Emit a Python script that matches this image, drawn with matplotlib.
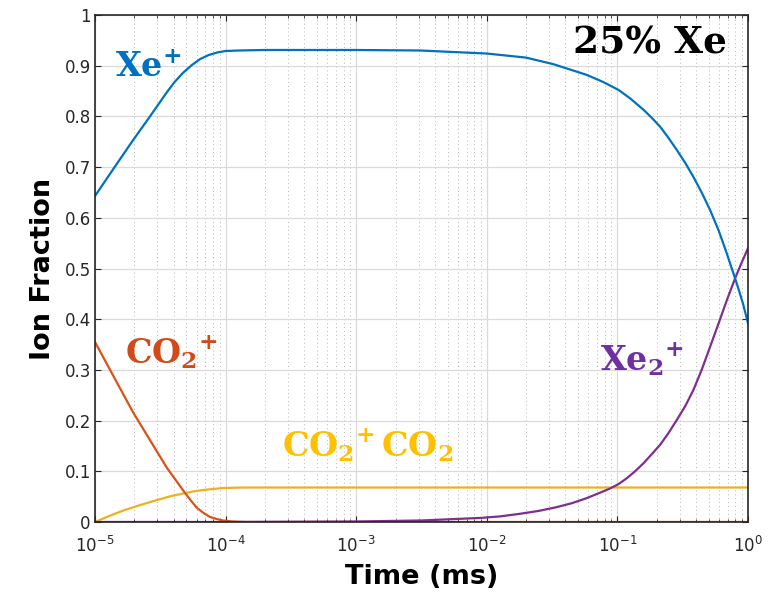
import numpy as np
import matplotlib as mpl
import matplotlib.pyplot as plt
from matplotlib.ticker import LogLocator, NullFormatter

mpl.rcParams.update({"mathtext.fontset": "custom",
                     "mathtext.bf": "DejaVu Serif:bold",
                     "mathtext.rm": "DejaVu Serif:bold",
                     "font.family": "DejaVu Sans"})

logt_xe = [-5, -4.85, -4.709, -4.579, -4.449, -4.39, -4.326, -4.26, -4.196, -4.13,
           -4.066, -4.0, -3.9, -3.7, -3.0, -2.51, -2.0, -1.7, -1.49, -1.236, -1.11,
           -0.99, -0.9, -0.8, -0.74, -0.674, -0.61, -0.546, -0.48, -0.419, -0.355,
           -0.29, -0.225, -0.163, -0.087, -0.04, 0]
xe_plus = [0.643, 0.700, 0.753, 0.800, 0.848, 0.868, 0.886, 0.901, 0.913, 0.921,
           0.926, 0.929, 0.930, 0.931, 0.931, 0.930, 0.924, 0.916, 0.903, 0.882, 0.868,
           0.852, 0.835, 0.813, 0.798, 0.780, 0.758, 0.734, 0.708, 0.681, 0.650,
           0.615, 0.575, 0.530, 0.471, 0.432, 0.392]

logt_xe2 = [-5, -4, -3.5, -3, -2.5, -2.05, -1.9, -1.75, -1.6, -1.47, -1.35, -1.236,
            -1.15, -1.057, -0.99, -0.93, -0.865, -0.8, -0.74, -0.674, -0.61, -0.546,
            -0.48, -0.419, -0.355, -0.29, -0.225, -0.163, -0.1, -0.05, 0]
xe2_plus = [0, 0, 0.0005, 0.001, 0.003, 0.008, 0.011, 0.016, 0.022, 0.029, 0.037,
            0.047, 0.056, 0.066, 0.075, 0.086, 0.100, 0.116, 0.133, 0.152, 0.175,
            0.201, 0.229, 0.260, 0.300, 0.346, 0.392, 0.437, 0.480, 0.511, 0.540]

logt_co2 = [-5, -4.71, -4.58, -4.45, -4.31, -4.265, -4.22, -4.17, -4.12, -4.07, -4.02,
            -3.95, -3.85, 0]
co2_plus = [0.355, 0.217, 0.162, 0.107, 0.057, 0.042, 0.028, 0.018, 0.010, 0.006,
            0.003, 0.001, 0.0, 0.0]

logt_dim = [-5, -4.9, -4.79, -4.66, -4.53, -4.42, -4.31, -4.27, -4.23, -4.185, -4.14,
            -4.08, -4.02, -3.9, -3.8, 0]
co2_dimer = [0.0, 0.011, 0.022, 0.033, 0.043, 0.051, 0.057, 0.059, 0.061, 0.0625,
             0.064, 0.0655, 0.067, 0.0678, 0.068, 0.068]

BLUE, ORANGE, YELLOW, PURPLE = "#0072BD", "#D95319", "#EDB120", "#7E2F8E"

fig = plt.figure(figsize=(7.73, 5.98), dpi=100)
ax = fig.add_axes([0.1229, 0.1271, 0.8448, 0.8478])

ax.plot(10.0 ** np.array(logt_dim), co2_dimer, color=YELLOW, lw=1.6)
ax.plot(10.0 ** np.array(logt_co2), co2_plus, color=ORANGE, lw=1.6)
ax.plot(10.0 ** np.array(logt_xe2), xe2_plus, color=PURPLE, lw=1.6)
ax.plot(10.0 ** np.array(logt_xe), xe_plus, color=BLUE, lw=1.6)

ax.set_xscale("log")
ax.set_xlim(1e-5, 1)
ax.set_ylim(0, 1)
ax.xaxis.set_major_locator(LogLocator(base=10, numticks=10))
ax.xaxis.set_minor_locator(LogLocator(base=10, subs=np.arange(2, 10), numticks=20))
ax.xaxis.set_minor_formatter(NullFormatter())
ax.set_yticks(np.arange(0, 1.01, 0.1))
ax.set_yticklabels(["0"] + [f"{v:.1f}" for v in np.arange(0.1, 0.95, 0.1)] + ["1"])

ax.grid(True, which="major", color="#dadada", lw=0.9)
ax.grid(True, which="minor", axis="x", color="#b5b5b5", lw=0.7, ls=(0, (1, 3)))
ax.tick_params(which="both", direction="in", top=True, right=True, colors="#262626",
               labelsize=12)
ax.tick_params(axis="x", which="major", pad=10)
ax.tick_params(axis="y", which="major", pad=3)
ax.tick_params(which="minor", length=2.5)
ax.tick_params(which="major", length=4)
for s in ax.spines.values():
    s.set_color("#262626")
    s.set_linewidth(1.2)

ax.set_xlabel("Time (ms)", fontsize=19.5, fontweight="bold", labelpad=6)
ax.set_ylabel("Ion Fraction", fontsize=19.5, fontweight="bold", labelpad=6)

ax.text(10 ** -4.85, 0.897, r"$\mathbf{Xe^{+}}$", color="#0070C0", fontsize=24,
        va="center", ha="left")
ax.text(10 ** -4.77, 0.335, r"$\mathbf{CO_2}{}^{\mathbf{+}}$", color="#D04A1A",
        fontsize=24, va="center", ha="left")
ax.text(10 ** -3.57, 0.152, r"$\mathbf{CO_2}{}^{\mathbf{+}}\,\mathbf{CO_2}$",
        color="#FFC000", fontsize=24, va="center", ha="left")
ax.text(10 ** -1.13, 0.32, r"$\mathbf{Xe_2}{}^{\mathbf{+}}$", color="#7030A0",
        fontsize=24, va="center", ha="left")
ax.text(10 ** -1.34, 0.945, "25% Xe", color="black", fontsize=27, fontweight="bold",
        family="DejaVu Serif", va="center", ha="left")

fig.savefig("out.png", dpi=100)
